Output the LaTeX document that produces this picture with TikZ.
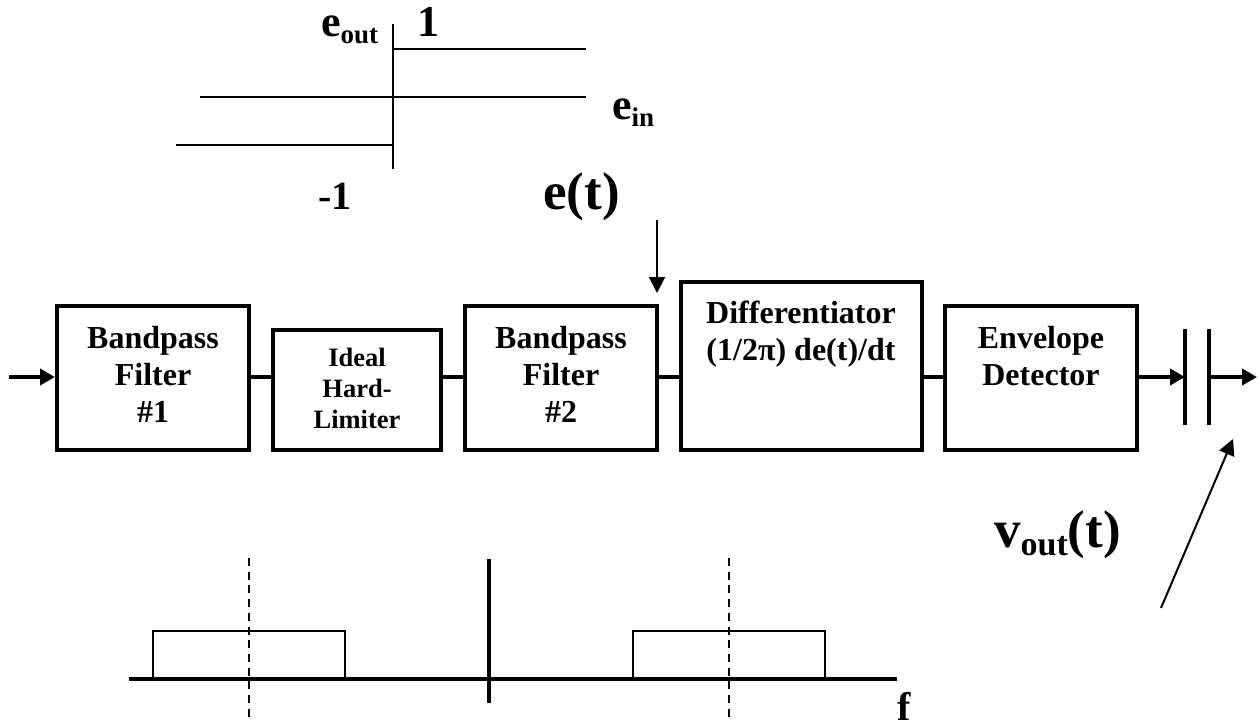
\documentclass[tikz,border=0pt]{standalone}
\usepackage{fontspec}
\setmainfont{Liberation Serif}
\usetikzlibrary{arrows.meta,calc}
\newcommand{\subtxt}[3]{\raisebox{-#2pt}{\fontsize{#1}{#1}\selectfont #3}}
\tikzset{
  blockbox/.style={draw=black,line width=4pt,minimum width=#1,inner sep=0pt,anchor=south west},
  lbl/.style={font=\bfseries\fontsize{32}{37}\selectfont,align=center,inner sep=0pt,anchor=north},
  smalllbl/.style={font=\bfseries\fontsize{26.5}{31}\selectfont,align=center,inner sep=0pt,anchor=north},
  wire/.style={line width=4pt},
  sigarrow/.style={line width=4pt,-{Triangle[length=15pt,width=16pt]}},
  thin1/.style={line width=2pt},
  ptr/.style={line width=2pt,-{Triangle[length=16pt,width=16pt]}},
  dash1/.style={line width=2pt,dash pattern=on 8pt off 5.7pt},
  txt/.style={font=\bfseries\fontsize{44}{50}\selectfont,inner sep=0pt},
  bigtxt/.style={font=\bfseries\fontsize{53}{60}\selectfont,inner sep=0pt},
}
\begin{document}
\begin{tikzpicture}[x=1pt,y=-1pt]
\useasboundingbox (0,0) rectangle (1259,725);
\coordinate (sig) at (0,377);
% blocks
\node[blockbox=192pt,minimum height=144pt] (b1) at (55,452) {};
\node[blockbox=168pt,minimum height=120pt] (lim) at (271,452) {};
\node[blockbox=192pt,minimum height=144pt] (b2) at (463,452) {};
\node[blockbox=241pt,minimum height=168pt] (dif) at (679,452) {};
\node[blockbox=192pt,minimum height=144pt] (env) at (943,452) {};
\node[lbl] (t1) at (153,326) {Bandpass\\Filter\\\#1};
\node[smalllbl] (t2) at (357,348) {Ideal\\Hard-\\Limiter};
\node[lbl] (t3) at (561,326) {Bandpass\\Filter\\\#2};
\node[lbl] (t4) at (801,301) {Differentiator\\(1/2π) de(t)/dt};
\node[lbl] (t5) at (1041,326) {Envelope\\Detector};
% signal path
\coordinate (in) at (9,377);
\coordinate (p1t) at (1185,329);
\coordinate (p1b) at (1185,425);
\coordinate (p2t) at (1209,329);
\coordinate (p2b) at (1209,425);
\coordinate (out) at (1257,377);
\draw[sigarrow] (in) -- (b1.west |- sig);
\draw[wire] (b1.east |- sig) -- (lim.west |- sig);
\draw[wire] (lim.east |- sig) -- (b2.west |- sig);
\draw[wire] (b2.east |- sig) -- (dif.west |- sig);
\draw[wire] (dif.east |- sig) -- (env.west |- sig);
\draw[sigarrow] (env.east |- sig) -- (p1t |- sig);
\draw[wire] (p1t) -- (p1b);
\draw[wire] (p2t) -- (p2b);
\draw[sigarrow] (p2t |- sig) -- (out);
% limiter characteristic
\draw[thin1] (393,24) -- (393,169);
\draw[thin1] (393,49) -- (586,49);
\draw[thin1] (200,97) -- (586,97);
\draw[thin1] (176,145) -- (393,145);
\node[txt,anchor=base west] (eo) at (321,37) {e\subtxt{27}{7}{out}};
\node[txt,anchor=base west] (one) at (417,37) {1};
\node[txt,anchor=base west] (ei) at (612,119) {e\subtxt{27}{7}{in}};
\node[font=\bfseries\fontsize{40}{46}\selectfont,inner sep=0pt,anchor=base west] (m1) at (318,209) {-1};
\node[bigtxt,anchor=base west] (et) at (543,209) {e(t)};
% pointers
\coordinate (ets) at (657,220);
\coordinate (ete) at (657,293);
\draw[ptr] (ets) -- (ete);
\coordinate (vs) at (1161,608);
\coordinate (ve) at (1233,439);
\draw[ptr] (vs) -- (ve);
\node[bigtxt,anchor=base west] (vo) at (994,547) {v\subtxt{34}{8}{out}(t)};
% spectrum
\draw[line width=3.5pt] (129,679) -- (897,679);
\draw[wire] (489,559) -- (489,703);
\draw[thin1] (153,679) -- (153,631) -- (345,631) -- (345,679);
\draw[thin1] (633,679) -- (633,631) -- (825,631) -- (825,679);
\draw[dash1] (249,558) -- (249,720);
\draw[dash1] (729,558) -- (729,720);
\node[font=\bfseries\fontsize{40}{46}\selectfont,inner sep=0pt,anchor=base west] (f) at (897,720) {f};
\end{tikzpicture}
\end{document}
